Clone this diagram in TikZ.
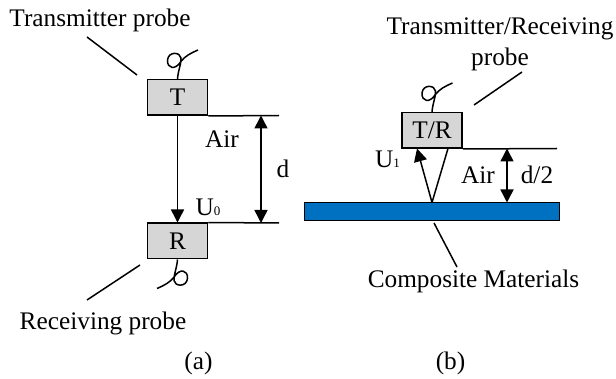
\documentclass[tikz,border=0pt]{standalone}
\usepackage{fontspec}
\setmainfont{Liberation Serif}
\usetikzlibrary{arrows.meta,positioning,calc}

\definecolor{platecolor}{HTML}{0070C0}
\newcommand{\labelfont}{\fontsize{25.3}{29}\selectfont}
\newcommand{\smalldigit}[1]{{\fontsize{13}{15}\selectfont #1}}
\tikzset{
    probebox/.style={draw, fill=black!16, line width=1.5pt, minimum width=60pt, minimum height=35.5pt, inner sep=0pt, font=\labelfont},
    label/.style={inner sep=0pt, anchor=base, font=\labelfont},
    dimarrow/.style={line width=1.5pt, {Triangle[length=13pt,width=13pt]}-{Triangle[length=13pt,width=13pt]}},
    onearrow/.style={line width=1.5pt, -{Triangle[length=13pt,width=13pt]}},
    wireline/.style={line width=1.5pt},
    probewire/.pic={
        \draw[wireline] (0, 0) .. controls (0.5, -8) and (4, -16) .. (3.5, -21)
            .. controls (3, -27) and (-9, -28) .. (-10, -19)
            .. controls (-10.5, -10) and (-2, -9) .. (3, -17)
            .. controls (7.5, -23) and (13.5, -26) .. (20.5, -29);
    }
}

\begin{document}
\begin{tikzpicture}[x=1pt, y=-1pt]
    \useasboundingbox (0, 0) rectangle (616, 379);

    % Probes and sample
    \node[probebox] (T) at (177.5, 97.5) {T};
    \node[probebox] (R) at (177.5, 241) {R};
    \node[probebox] (TR) at (432, 130.5) {T/R};
    \node[draw, fill=platecolor, line width=1.3pt, minimum width=255pt, minimum height=18pt, inner sep=0pt] (plate) at (432, 211.5) {};

    % Wires
    \pic at (T.north) {probewire};
    \pic[rotate=180] at (R.south) {probewire};
    \pic at (TR.north) {probewire};

    % Labels
    \node[label] (tlabel) at (100, 27) {Transmitter probe};
    \node[label] (rlabel) at (103, 330) {Receiving probe};
    \node[label] (trlabel) at (500, 35) {Transmitter/Receiving};
    \node[label] (prlabel) at (500, 66) {probe};
    \node[label] (clabel) at (473.5, 288) {Composite Materials};
    \node[label] (aira) at (222, 148) {Air};
    \node[label] (dist) at (283, 178) {d};
    \node[label] (airb) at (478, 184) {Air};
    \node[label] (half) at (537, 184) {d/2};
    \node[label] (u0) at (208, 216) {U\smalldigit{0}};
    \node[label] (u1) at (387.5, 168) {U\smalldigit{1}};
    \node[label] (capa) at (198.5, 370) {(a)};
    \node[label] (capb) at (450.5, 370) {(b)};

    % Air gap lines
    \coordinate (ta) at (279, 115.5);
    \coordinate (ra) at (279, 223);
    \coordinate (tb) at (557, 148.5);
    \draw[wireline] (T.south east) -- (ta);
    \draw[wireline] (R.north east) -- (ra);
    \draw[wireline] (TR.south east) -- (tb);

    % Arrows
    \coordinate (da) at (261, 115.5);
    \coordinate (db) at (261, 223);
    \coordinate (hb) at (507, 148.5);
    \coordinate (hc) at (507, 202.5);
    \coordinate (hit) at (432, 202.5);
    \coordinate (outl) at (417, 148.5);
    \coordinate (outr) at (448, 148.5);
    \draw[onearrow] (T.south) -- (R.north);
    \draw[dimarrow] (da) -- (db);
    \draw[dimarrow] (hb) -- (hc);
    \draw[onearrow] (hit) -- (outl);
    \draw[wireline] (hit) -- (outr);

    % Leader lines
    \coordinate (t1) at (87, 37);
    \coordinate (t2) at (137, 75);
    \coordinate (r1) at (140, 265);
    \coordinate (r2) at (87, 300);
    \coordinate (p1) at (474, 105);
    \coordinate (p2) at (522, 72);
    \coordinate (c1) at (434, 223);
    \coordinate (c2) at (457, 267);
    \foreach \a/\b in {t1/t2, r1/r2, p1/p2, c1/c2} {
        \draw[wireline] (\a) -- (\b);
    }
\end{tikzpicture}
\end{document}
